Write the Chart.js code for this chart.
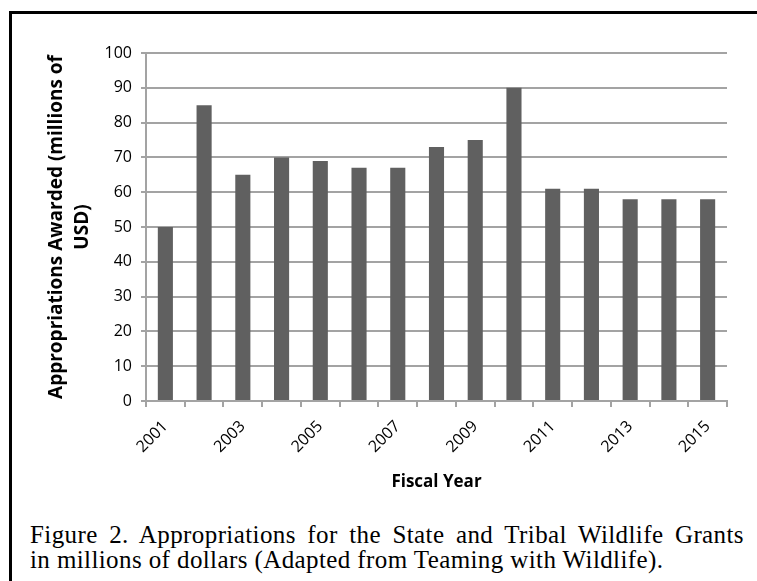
<!DOCTYPE html>
<html>
<head>
<meta charset="utf-8">
<script src="https://cdn.jsdelivr.net/npm/chart.js@4"></script>
<style>
    body { margin: 0; background: #fff; }
    #frame {
        position: absolute; left: 9px; top: 11px;
        width: 800px; height: 600px;
        border-left: 3px solid #000; border-top: 3px solid #000;
    }
    #chart { position: absolute; left: 0; top: 0; }
    .caption {
        position: absolute; left: 30px; width: 714px;
        font-family: "Liberation Serif", "Times New Roman", serif;
        font-size: 25px; line-height: 25px; color: #000;
        letter-spacing: 0.4px;
        white-space: nowrap;
    }
    #cap1 { top: 522px; text-align: justify; text-align-last: justify; white-space: normal; }
    #cap2 { top: 547px; text-align: left; }
</style>
</head>
<body>
<div id="frame"></div>
<canvas id="chart" width="757" height="510"></canvas>
<div class="caption" id="cap1">Figure 2. Appropriations for the State and Tribal Wildlife Grants</div>
<div class="caption" id="cap2">in millions of dollars (Adapted from Teaming with Wildlife).</div>
<script>
// Datos del gráfico
const years = ['2001', '2002', '2003', '2004', '2005', '2006', '2007', '2008',
    '2009', '2010', '2011', '2012', '2013', '2014', '2015'];
const awarded = [50, 85, 65, 70, 69, 67, 67, 73, 75, 90, 61, 61, 58, 58, 58];
const yTitle = ['Appropriations Awarded (millions of', 'USD)'];
const xTitle = 'Fiscal Year';

const gridGray = '#a3a3a3';
const tickFont = { family: 'Open Sans', size: 16 };

new Chart(document.getElementById('chart'), {
    type: 'bar',
    data: {
        labels: years,
        datasets: [{
            data: awarded,
            backgroundColor: '#606060',
            barPercentage: 0.39,
            categoryPercentage: 1
        }]
    },
    options: {
        responsive: false,
        animation: false,
        layout: { padding: { left: 12, top: 53, right: 30, bottom: 0 } },
        plugins: {
            legend: { display: false },
            tooltip: { enabled: false }
        },
        scales: {
            x: {
                offset: true,
                grid: {
                    offset: true,
                    drawOnChartArea: false,
                    drawTicks: true,
                    tickLength: 6,
                    color: gridGray,
                    lineWidth: 2
                },
                border: { color: gridGray, width: 2 },
                ticks: {
                    autoSkip: false,
                    minRotation: 45,
                    maxRotation: 45,
                    padding: 10,
                    color: '#000',
                    font: tickFont,
                    callback: function (val, i) {
                        return i % 2 === 0 ? this.getLabelForValue(val) : '';
                    }
                },
                title: {
                    display: true,
                    text: xTitle,
                    color: '#000',
                    font: { family: 'Open Sans', size: 17, weight: 'bold', lineHeight: 1.25 },
                    padding: { top: 4, bottom: 17 }
                },
                afterFit(scale) { scale.height = 109; }
            },
            y: {
                min: 0,
                max: 100,
                ticks: {
                    stepSize: 10,
                    padding: 9,
                    color: '#000',
                    font: tickFont
                },
                grid: {
                    color: gridGray,
                    lineWidth: 2,
                    tickLength: 5
                },
                border: { color: gridGray, width: 2 },
                title: {
                    display: true,
                    text: yTitle,
                    color: '#000',
                    font: { family: 'Open Sans', size: 19, weight: 'bold', lineHeight: 1.35 },
                    padding: { top: 32, bottom: 0 }
                },
                afterFit(scale) { scale.width = 134; }
            }
        }
    }
});
</script>
</body>
</html>
